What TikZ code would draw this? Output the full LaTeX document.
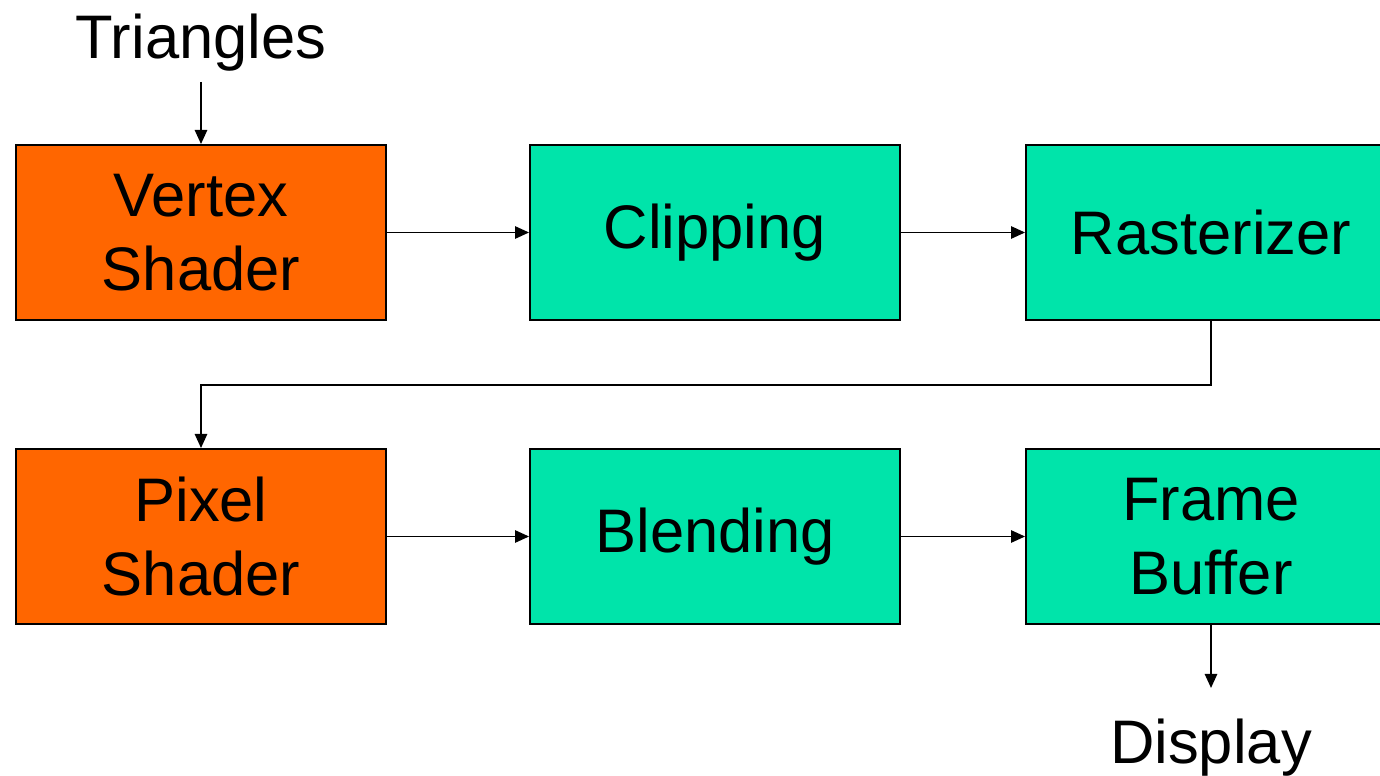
\documentclass[tikz,border=0pt]{standalone}
\usepackage{fontspec}
\setmainfont{Liberation Sans}
\usetikzlibrary{arrows.meta}

\definecolor{shaderorange}{RGB}{255,102,0}
\definecolor{fixedgreen}{RGB}{0,228,170}

\tikzset{
  stage/.style={draw=black,line width=1.1pt,minimum width=7.4cm,minimum height=3.5cm,
    inner sep=0pt,align=center,font=\fontsize{35}{42}\selectfont},
  shader/.style={stage,fill=shaderorange},
  fixedfn/.style={stage,fill=fixedgreen},
  label/.style={anchor=base,inner sep=0pt,font=\fontsize{35}{42}\selectfont},
  flow/.style={line width=1.1pt,-{Triangle[length=8pt,width=7pt]}},
}

\begin{document}
\begin{tikzpicture}[x=0.02cm,y=-0.02cm]
  \useasboundingbox (0,0) rectangle (1380,776);
  \clip (0,0) rectangle (1380,776);
  % first row
  \node[shader]  (vs)   at (201,232.5)  {Vertex\\Shader};
  \node[fixedfn] (clip) at (715,232.5)  {Clipping};
  \node[fixedfn] (rast) at (1211,232.5) {Rasterizer};
  % second row
  \node[shader]  (ps)   at (201,536.5)  {Pixel\\Shader};
  \node[fixedfn] (blend) at (715,536.5) {Blending};
  \node[fixedfn] (fb)   at (1211,536.5) {Frame\\Buffer};
  % input and output
  \node[label] (tri)  at (201,59)  {Triangles};
  \node[label] (disp) at (1211,764) {Display};
  \coordinate (tri-end)  at (201,82);
  \coordinate (disp-end) at (1211,688);

  \draw[flow] (tri-end) -- (vs);
  \draw[flow] (vs) -- (clip);
  \draw[flow] (clip) -- (rast);
  \draw[flow] (rast.south) -- ++(0,64) -| (ps.north);
  \draw[flow] (ps) -- (blend);
  \draw[flow] (blend) -- (fb);
  \draw[flow] (fb) -- (disp-end);
\end{tikzpicture}
\end{document}
